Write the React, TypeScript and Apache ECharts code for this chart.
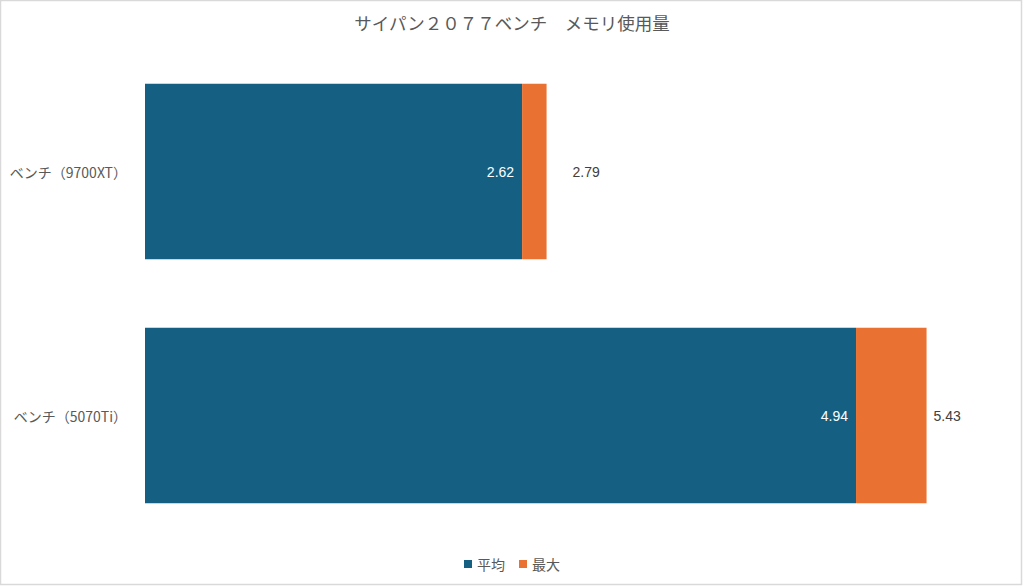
import React, { useEffect, useRef } from "react";
import * as echarts from "echarts";

const titleText = "サイパン２０７７ベンチ　メモリ使用量";
const categories = ["ベンチ（9700XT）", "ベンチ（5070Ti）"];
const avgValues = [2.62, 4.94];
const maxValues = [2.79, 5.43];
const seriesNames = ["平均", "最大"];
const maxLabelGaps = [26, 7];

const FONT = "'Liberation Sans', 'Noto Sans CJK JP', sans-serif";
const JP_FONT = "'Noto Sans CJK JP', 'Liberation Sans', sans-serif";

export default function App() {
  const ref = useRef<HTMLDivElement>(null);
  useEffect(() => {
    document.body.style.margin = "0";
    const chart = echarts.init(ref.current!, null, { renderer: "svg" });
    chart.setOption({
      animation: false,
      backgroundColor: "#ffffff",
      title: {
        text: titleText,
        left: "center",
        top: 9,
        textStyle: { fontFamily: JP_FONT, fontSize: 17.5, fontWeight: "normal", color: "#595959" },
      },
      legend: {
        bottom: 11,
        left: "center",
        icon: "rect",
        itemWidth: 8,
        itemHeight: 8,
        itemGap: 14,
        data: seriesNames,
        textStyle: { fontFamily: JP_FONT, fontSize: 14, color: "#595959" },
      },
      grid: { left: 145, right: 15.4, top: 49.5, bottom: 49.5, containLabel: false },
      xAxis: { type: "value", min: 0, max: 6, show: false },
      yAxis: {
        type: "category",
        data: categories,
        inverse: true,
        axisLine: { show: false },
        axisTick: { show: false },
        axisLabel: { margin: 18, fontFamily: JP_FONT, fontSize: 14, color: "#595959" },
      },
      series: [
        {
          name: seriesNames[0],
          type: "bar",
          stack: "mem",
          barCategoryGap: "28%",
          itemStyle: { color: "#156082" },
          data: avgValues,
          label: {
            show: true,
            position: "insideRight",
            distance: 8,
            color: "#ffffff",
            fontFamily: FONT,
            fontSize: 14,
            formatter: (p: any) => avgValues[p.dataIndex].toFixed(2),
          },
        },
        {
          name: seriesNames[1],
          type: "bar",
          stack: "mem",
          barCategoryGap: "28%",
          itemStyle: { color: "#E97132" },
          data: maxValues.map((m, i) => ({
            value: +(m - avgValues[i]).toFixed(2),
            label: { distance: maxLabelGaps[i] },
          })),
          label: {
            show: true,
            position: "right",
            color: "#404040",
            fontFamily: FONT,
            fontSize: 14,
            formatter: (p: any) => maxValues[p.dataIndex].toFixed(2),
          },
        },
      ],
      graphic: [
        {
          type: "rect",
          shape: { x: 0.5, y: 0.5, width: 1021, height: 584 },
          style: { fill: "none", stroke: "#d9d9d9", lineWidth: 1.5 },
          silent: true,
        },
      ],
    });
    return () => chart.dispose();
  }, []);
  return <div ref={ref} style={{ width: 1024, height: 587 }} />;
}
